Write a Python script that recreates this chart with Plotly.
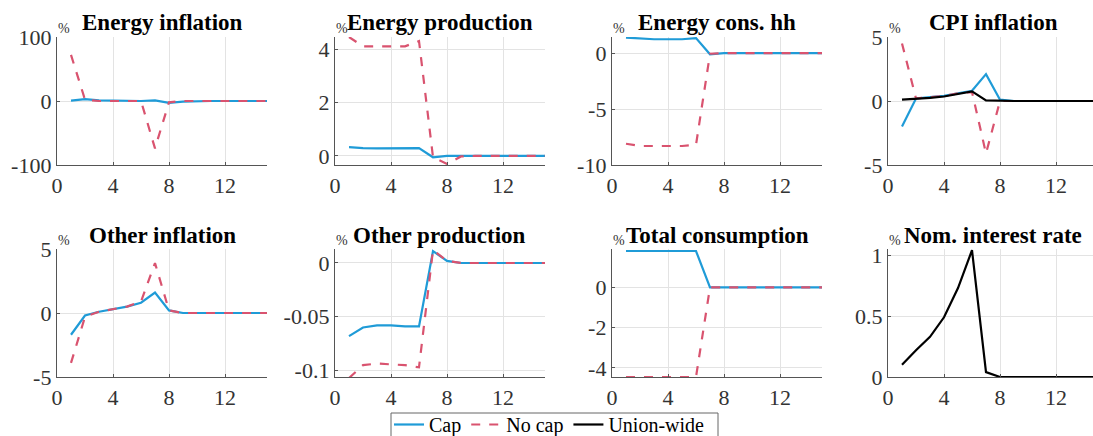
import plotly.graph_objects as go

W, H = 1093, 436
periods = list(range(1, 16))

titles = ["Energy inflation", "Energy production", "Energy cons. hh", "CPI inflation",
          "Other inflation", "Other production", "Total consumption", "Nom. interest rate"]

# Cap series
cap_energy_infl = [0.5, 3, 1, 0.5, 0, 0, 1, -3, -1, 0, 0, 0, 0, 0, 0]
cap_energy_prod = [0.33, 0.29, 0.28, 0.28, 0.28, 0.29, -0.05, 0, 0, 0, 0, 0, 0, 0, 0]
cap_energy_cons = [1.4, 1.3, 1.25, 1.25, 1.25, 1.35, -0.1, 0, 0, 0, 0, 0, 0, 0, 0]
cap_cpi_infl = [-2.0, 0.2, 0.3, 0.4, 0.6, 0.8, 2.1, 0.1, 0, 0, 0, 0, 0, 0, 0]
cap_other_infl = [-1.7, -0.2, 0.1, 0.3, 0.5, 0.8, 1.6, 0.2, 0, 0, 0, 0, 0, 0, 0]
cap_other_prod = [-0.068, -0.060, -0.058, -0.058, -0.059, -0.059, 0.011, 0.002, 0, 0, 0, 0, 0, 0, 0]
cap_total_cons = [1.8, 1.8, 1.8, 1.8, 1.8, 1.8, 0, 0, 0, 0, 0, 0, 0, 0, 0]

# No cap series
nocap_energy_infl = [72, 2, 0, 0, 0, 0, -74, -2, 0, 0, 0, 0, 0, 0, 0]
nocap_energy_prod = [4.45, 4.1, 4.1, 4.1, 4.1, 4.3, -0.05, -0.3, -0.02, 0, 0, 0, 0, 0, 0]
nocap_energy_cons = [-8.1, -8.3, -8.3, -8.3, -8.3, -8.2, -0.05, 0, 0, 0, 0, 0, 0, 0, 0]
nocap_cpi_infl = [4.5, 0.2, 0.3, 0.4, 0.6, 0.7, -4.1, 0, 0, 0, 0, 0, 0, 0, 0]
nocap_other_infl = [-3.9, -0.3, 0.1, 0.3, 0.5, 0.9, 3.9, 0.2, 0, 0, 0, 0, 0, 0, 0]
nocap_other_prod = [-0.107, -0.095, -0.0935, -0.094, -0.095, -0.097, 0.012, 0.002, 0, 0, 0, 0, 0, 0, 0]
nocap_total_cons = [-4.45, -4.45, -4.45, -4.45, -4.45, -4.45, 0, 0, 0, 0, 0, 0, 0, 0, 0]

# Union-wide series
union_cpi_infl = [0.1, 0.15, 0.25, 0.35, 0.55, 0.75, 0.05, 0, 0, 0, 0, 0, 0, 0, 0]
union_interest = [0.1, 0.22, 0.33, 0.49, 0.73, 1.04, 0.04, 0, 0, 0, 0, 0, 0, 0, 0]

x_ticks = [0, 4, 8, 12]
y_tickvals = [[-100, 0, 100], [0, 2, 4], [-10, -5, 0], [-5, 0, 5],
              [-5, 0, 5], [-0.1, -0.05, 0], [-4, -2, 0], [0, 0.5, 1]]
y_ticktext = [["-100", "0", "100"], ["0", "2", "4"], ["-10", "-5", "0"], ["-5", "0", "5"],
              ["-5", "0", "5"], ["-0.1", "-0.05", "0"], ["-4", "-2", "0"], ["0", "0.5", "1"]]

panels = [
    (cap_energy_infl, nocap_energy_infl, None),
    (cap_energy_prod, nocap_energy_prod, None),
    (cap_energy_cons, nocap_energy_cons, None),
    (cap_cpi_infl, nocap_cpi_infl, union_cpi_infl),
    (cap_other_infl, nocap_other_infl, None),
    (cap_other_prod, nocap_other_prod, None),
    (cap_total_cons, nocap_total_cons, None),
    (None, None, union_interest),
]

# layout geometry (pixels)
col_left = [57, 335, 612, 888]
panel_w = 210
row_top = [37, 249]
row_bot = [165, 377]
y_ranges = [[-100, 100], [-0.34, 4.45], [-10, 1.45], [-5, 5],
            [-5, 5], [-0.106, 0.013], [-4.45, 1.9], [0, 1.05]]

BLUE = "#1f9bd7"
RED = "#d9536f"
BLACK = "#000000"
FONT = "Liberation Serif, serif"

fig = go.Figure()
annotations = []
shown = set()

for i, (cap, nocap, union) in enumerate(panels):
    r, c = divmod(i, 4)
    n = i + 1
    xa = "x" if n == 1 else f"x{n}"
    ya = "y" if n == 1 else f"y{n}"
    x0 = col_left[c]
    x1 = x0 + panel_w
    xr_max = 15
    if x1 > W:
        xr_max = 15 * (W - x0) / panel_w
        x1 = W
    dom_x = [x0 / W, x1 / W]
    dom_y = [1 - row_bot[r] / H, 1 - row_top[r] / H]

    def add(vals, name, color, dash):
        if vals is None:
            return
        fig.add_trace(go.Scatter(
            x=periods, y=vals, mode="lines", name=name,
            line=dict(color=color, width=2.2, dash=dash),
            xaxis=xa, yaxis=ya, showlegend=name not in shown,
            legendrank={"Cap": 1, "No cap": 2, "Union-wide": 3}[name]))
        shown.add(name)

    add(cap, "Cap", BLUE, "solid")
    add(nocap, "No cap", RED, "dash")
    add(union, "Union-wide", BLACK, "solid")

    axis_common = dict(showgrid=True, gridcolor="#e3e3e3", gridwidth=1,
                       showline=True, linecolor="#555555", linewidth=1.3,
                       ticks="inside", ticklen=3, tickcolor="#555555",
                       zeroline=False, mirror=False,
                       tickfont=dict(family=FONT, size=22, color="#333333"))
    fig.layout[("xaxis" if n == 1 else f"xaxis{n}")] = dict(
        domain=dom_x, range=[0, xr_max], anchor=ya,
        tickvals=x_ticks, ticktext=[str(t) for t in x_ticks], **axis_common)
    fig.layout[("yaxis" if n == 1 else f"yaxis{n}")] = dict(
        domain=dom_y, range=y_ranges[i], anchor=xa,
        tickvals=y_tickvals[i], ticktext=y_ticktext[i], **axis_common)

    # title
    title_y = [23, 235][r]
    annotations.append(dict(
        text=f"<b>{titles[i]}</b>", xref="paper", yref="paper",
        x=(col_left[c] + panel_w / 2) / W, y=1 - title_y / H,
        xanchor="center", yanchor="middle", showarrow=False,
        font=dict(family=FONT, size=23, color="#000000")))
    # percent label
    annotations.append(dict(
        text="%", xref="paper", yref="paper",
        x=(col_left[c] - 1) / W, y=1 - (row_top[r] - 9) / H,
        xanchor="left", yanchor="middle", showarrow=False,
        font=dict(family=FONT, size=14, color="#333333")))

# legend frame
legend_box = dict(type="rect", xref="paper", yref="paper",
                  x0=391 / W, x1=718 / W, y0=1 - 445 / H, y1=1 - 413 / H,
                  line=dict(color="#666666", width=1), fillcolor="white", layer="below")

fig.update_layout(
    width=W, height=H,
    margin=dict(l=0, r=0, t=0, b=0, autoexpand=False),
    paper_bgcolor="white", plot_bgcolor="white",
    annotations=annotations,
    shapes=[legend_box],
    legend=dict(orientation="h", x=389 / W, y=1 - 405 / H, xanchor="left", yanchor="top",
                borderwidth=0, bgcolor="rgba(0,0,0,0)",
                font=dict(family=FONT, size=20, color="#000000"),
                itemwidth=30, tracegroupgap=0),
)

fig.write_html("out.html")
